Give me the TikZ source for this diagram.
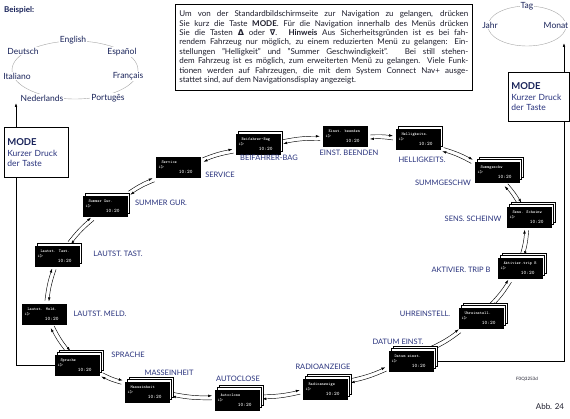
\documentclass[tikz,border=0pt]{standalone}
\usepackage{fontspec}
\setmainfont{Lato}
\newfontfamily\dejavu{DejaVu Sans}
\usetikzlibrary{calc,arrows.meta,shadows}
\pgfdeclarelayer{bg}
\pgfsetlayers{bg,main}
\definecolor{lab}{RGB}{40,50,125}
\definecolor{navy}{RGB}{25,35,90}
\definecolor{txt}{RGB}{30,30,45}
\tikzset{
 scr/.style={fill=black,draw=black,line width=0.4pt,minimum width=44pt,minimum height=20pt,inner sep=0pt,text=white,font=\ttfamily\fontsize{4.2}{5}\selectfont,align=left},
 one/.style={general shadow={fill=white,draw=black,line width=0.5pt,shadow xshift=2pt,shadow yshift=2.5pt}},
 multi/.style={general shadow={fill=white,draw=black,line width=0.5pt,shadow xshift=4pt,shadow yshift=4.5pt},general shadow={fill=white,draw=black,line width=0.5pt,shadow xshift=2pt,shadow yshift=2.5pt}},
 lab/.style={text=lab,font=\fontsize{7.5}{8}\selectfont,inner sep=1pt},
 lang/.style={text=navy,font=\fontsize{8.5}{9}\selectfont,fill=white,inner sep=1pt},
 arr/.style={-{Latex[length=4pt,width=2.6pt]},line width=0.45pt},
 modebox/.style={draw,line width=0.6pt,align=left,anchor=north west,inner sep=3pt,font=\fontsize{8.5}{10}\selectfont,text=lab}
}
\newcommand\scrtext[1]{\makebox[41pt][l]{\hspace{4pt}\bfseries #1}\\\makebox[41pt][l]{\hspace{1pt}i$\triangleright$}\\\makebox[41pt][r]{\fontsize{5.2}{5.4}\selectfont\bfseries 10:20\hspace{6pt}}}
\newcommand\link[2]{%
 \draw[arr] let \p1=(#1.center), \p2=(#2.center),
   \n1={atan2(\y2-\y1,\x2-\x1)},
   \n2={min(25/max(abs(cos(\n1)),0.001),13/max(abs(sin(\n1)),0.001))},
   \p3=($(\p1)!\n2!(\p2)$), \p4=($(\p2)!\n2!(\p1)$),
   \p5=($(\p3)!2pt!90:(\p4)$), \p6=($(\p4)!2pt!-90:(\p3)$)
  in (\p5) to[bend left=6] (\p6);
 \draw[arr] let \p1=(#1.center), \p2=(#2.center),
   \n1={atan2(\y2-\y1,\x2-\x1)},
   \n2={min(25/max(abs(cos(\n1)),0.001),13/max(abs(sin(\n1)),0.001))},
   \p3=($(\p1)!\n2!(\p2)$), \p4=($(\p2)!\n2!(\p1)$),
   \p7=($(\p3)!2pt!-90:(\p4)$), \p8=($(\p4)!2pt!90:(\p3)$)
  in (\p8) to[bend right=6] (\p7);
}
\begin{document}
\begin{tikzpicture}[x=1pt,y=-1pt]
\useasboundingbox (0,0) rectangle (570,419);
\clip (0,0) rectangle (570,419);
\begin{pgfonlayer}{bg}
\fill[white] (0,0) rectangle (570,419);
\end{pgfonlayer}

% example languages
\node[font=\bfseries\fontsize{8}{9}\selectfont,text=navy,anchor=west,inner sep=0pt] (bsp) at (4,10) {Beispiel:};
\draw[gray!70,line width=0.4pt] (75,70) ellipse [x radius=63pt,y radius=29pt];
\node[lang] (en) at (73,40) {English};
\node[lang] (deu) at (23,51) {Deutsch};
\node[lang] (es) at (122,52) {Español};
\node[lang] (it) at (17,76) {Italiano};
\node[lang] (fr) at (128,76) {Français};
\node[lang] (nl) at (42,98) {Nederlands};
\node[lang] (pt) at (108,98) {Portugês};

% date example
\draw[gray!70,line width=0.4pt] (527,26) ellipse [x radius=39pt,y radius=20pt];
\node[lang] (tag) at (527,6) {Tag};
\node[lang] (jahr) at (490,25) {Jahr};
\node[lang] (monat) at (556,25) {Monat};

% info text
\node[draw,line width=0.6pt,anchor=north west,text width=289pt,inner xsep=4pt,inner ysep=4pt,minimum height=86pt,text=txt,font=\fontsize{8}{9.4}\selectfont,align=justify] (info) at (175,4) {Um von der Standardbildschirmseite zur Navigation zu gelangen, drücken\linebreak
Sie kurz die Taste \textbf{MODE}. Für die Navigation innerhalb des Menüs drücken\linebreak
Sie die Tasten {\dejavu\bfseries Δ} oder {\dejavu\bfseries ∇}. \textbf{Hinweis} Aus Sicherheitsgründen ist es bei fah-\linebreak
rendem Fahrzeug nur möglich, zu einem reduzierten Menü zu gelangen: Ein-\linebreak
stellungen "Helligkeit" und "Summer Geschwindigkeit". Bei still stehen-\linebreak
dem Fahrzeug ist es möglich, zum erweiterten Menü zu gelangen. Viele Funk-\linebreak
tionen werden auf Fahrzeugen, die mit dem System Connect Nav+ ausge-\linebreak
stattet sind, auf dem Navigationsdisplay angezeigt.};

% MODE boxes
\node[modebox,minimum width=64pt,minimum height=50pt,text width=58pt] (modeL) at (4,127) {{\color{navy}\bfseries\fontsize{9.5}{11}\selectfont MODE}\\[1pt]Kurzer Druck\\der Taste};
\node[modebox,minimum width=61pt,minimum height=49pt,text width=55pt] (modeR) at (508,72) {{\color{navy}\bfseries\fontsize{9.5}{11}\selectfont MODE}\\[1pt]Kurzer Druck\\der Taste};
\coordinate (lTop) at (16,103);
\coordinate (rTop) at (564,43);

% screens
\node[scr,multi] (sp) at (77,365) {\scrtext{Sprache}};
\node[scr,multi] (me) at (147,392) {\scrtext{Masseinheit}};
\node[scr,multi] (ac) at (237,400) {\scrtext{Autoclose}};
\node[scr,multi] (ra) at (325,389) {\scrtext{Radioanzeige}};
\node[scr,multi] (de) at (411,361) {\scrtext{Datum einst.}};
\node[scr,multi] (uh) at (481,318) {\scrtext{Uhreinstell.}};
\node[scr,multi] (at) at (520,268) {\scrtext{Aktivier.trip B}};
\node[scr,multi] (ss) at (529,217) {\scrtext{Sens. Scheinw}};
\node[scr,multi] (sw) at (497,172) {\scrtext{Summgeschw}};
\node[scr,one] (hl) at (418,139) {\scrtext{Helligkeits.}};
\node[scr] (eb) at (345,136) {\scrtext{Einst. beenden}};
\node[scr,one] (bb) at (258,144) {\scrtext{Beifahrer-Bag}};
\node[scr] (sv) at (178,167) {\scrtext{Service}};
\node[scr,one] (sg) at (105,206) {\scrtext{Summer Gur.}};
\node[scr,one] (lt) at (57,256) {\scrtext{Lautst. Tast.}};
\node[scr] (lm) at (44,314) {\scrtext{Lautst. Meld.}};

% labels
\node[lab] (lsp) at (128,355) {SPRACHE};
\node[lab] (lme) at (169,373) {MASSEINHEIT};
\node[lab] (lac) at (238,379) {AUTOCLOSE};
\node[lab] (lra) at (323,367) {RADIOANZEIGE};
\node[lab] (lde) at (398,342) {DATUM EINST.};
\node[lab] (luh) at (425,314) {UHREINSTELL.};
\node[lab] (lat) at (461,270) {AKTIVIER. TRIP B};
\node[lab] (lss) at (473,219) {SENS. SCHEINW};
\node[lab] (lsw) at (443,183) {SUMMGESCHW};
\node[lab] (lhl) at (422,160) {HELLIGKEITS.};
\node[lab] (leb) at (349,153) {EINST. BEENDEN};
\node[lab] (lbb) at (269,158) {BEIFAHRER-BAG};
\node[lab] (lsv) at (220,175) {SERVICE};
\node[lab] (lsg) at (161,203) {SUMMER GUR.};
\node[lab] (llt) at (118,254) {LAUTST. TAST.};
\node[lab] (llm) at (100,314) {LAUTST. MELD.};

% footer
\node[font=\fontsize{4.5}{5}\selectfont,text=txt] (fq) at (527,379) {F0Q3253d};
\node[font=\fontsize{8}{9}\selectfont,text=txt] (abb) at (550,407) {Abb. 24};

\begin{pgfonlayer}{bg}
\link{sp}{lm}
\link{lm}{lt}
\link{lt}{sg}
\link{sg}{sv}
\link{sv}{bb}
\link{bb}{eb}
\link{eb}{hl}
\link{hl}{sw}
\link{sw}{ss}
\link{ss}{at}
\link{at}{uh}
\link{uh}{de}
\link{de}{ra}
\link{ra}{ac}
\link{ac}{me}
\link{me}{sp}
\draw[arr,line width=0.6pt] (modeL.north -| lTop) -- (lTop);
\draw[line width=0.6pt] (modeL.south -| lTop) |- (sp);
\draw[arr,line width=0.6pt] (modeR.north -| rTop) -- (rTop);
\draw[line width=0.6pt] (de) -| (modeR.south -| rTop);
\end{pgfonlayer}
\end{tikzpicture}
\end{document}
